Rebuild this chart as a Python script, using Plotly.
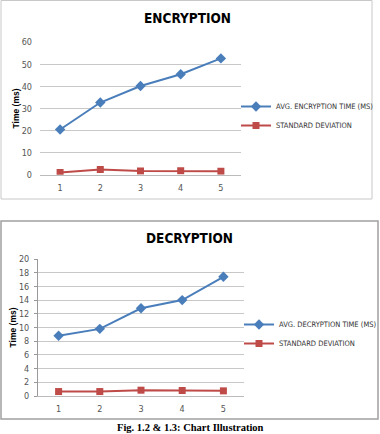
import plotly.graph_objects as go

categories = ["1", "2", "3", "4", "5"]
enc_avg = [20.5, 32.7, 40.2, 45.5, 52.7]
enc_std = [1.0, 2.3, 1.7, 1.8, 1.6]
dec_avg = [8.8, 9.8, 12.8, 14.0, 17.4]
dec_std = [0.65, 0.65, 0.85, 0.8, 0.75]

BLUE = "#4a7ebb"
RED = "#be4b48"
W, H = 380, 434
NARROW = "DejaVu Sans Condensed, Liberation Sans Narrow, Liberation Sans, sans-serif"

def px(x): return x / W
def py(y): return 1 - y / H

fig = go.Figure()
x_idx = [1, 2, 3, 4, 5]

fig.add_trace(go.Scatter(x=x_idx, y=enc_avg, mode="lines+markers", name="AVG. ENCRYPTION TIME (MS)",
                         line=dict(color=BLUE, width=2), marker=dict(symbol="diamond", size=8, color=BLUE),
                         xaxis="x", yaxis="y", legend="legend"))
fig.add_trace(go.Scatter(x=x_idx, y=enc_std, mode="lines+markers", name="STANDARD DEVIATION",
                         line=dict(color=RED, width=2), marker=dict(symbol="square", size=7, color=RED),
                         xaxis="x", yaxis="y", legend="legend"))
fig.add_trace(go.Scatter(x=x_idx, y=dec_avg, mode="lines+markers", name="AVG. DECRYPTION TIME (MS)",
                         line=dict(color=BLUE, width=2), marker=dict(symbol="diamond", size=8, color=BLUE),
                         xaxis="x2", yaxis="y2", legend="legend2"))
fig.add_trace(go.Scatter(x=x_idx, y=dec_std, mode="lines+markers", name="STANDARD DEVIATION",
                         line=dict(color=RED, width=2), marker=dict(symbol="square", size=7, color=RED),
                         xaxis="x2", yaxis="y2", legend="legend2"))

tickfont = dict(family=NARROW, size=9, color="#555555")
xcommon = dict(range=[0.5, 5.5], tickvals=x_idx, ticktext=categories, showgrid=False, zeroline=False,
               showline=True, linecolor="#bbbbbb", ticks="", tickfont=tickfont, fixedrange=True,
               automargin=False, ticklabelstandoff=4)
ytitle = dict(text="<b>Time (ms)</b>", font=dict(family="Liberation Sans, Arial, sans-serif", size=8.5, color="#000000"),
              standoff=0)
legfont = dict(family=NARROW, size=7.5, color="#333333")

fig.update_layout(
    width=W, height=H, margin=dict(l=0, r=0, t=0, b=0, autoexpand=False),
    paper_bgcolor="white", plot_bgcolor="white",
    xaxis=dict(domain=[px(40), px(241)], anchor="y", **xcommon),
    yaxis=dict(domain=[py(174.7), py(42.3)], anchor="x", range=[0, 60], dtick=10,
               showgrid=True, gridcolor="#c8c8c8", gridwidth=1, zeroline=False, showline=False,
               tickfont=tickfont, title=ytitle, ticks="", fixedrange=True, automargin=False,
               ticklabelstandoff=7),
    xaxis2=dict(domain=[px(38), px(244)], anchor="y2", **xcommon),
    yaxis2=dict(domain=[py(396), py(259)], anchor="x2", range=[0, 20], dtick=2,
                showgrid=True, gridcolor="#c8c8c8", gridwidth=1, zeroline=False, showline=True,
                linecolor="#999999", ticks="outside", ticklen=3, tickcolor="#999999",
                tickfont=tickfont, title=ytitle, fixedrange=True, automargin=False,
                ticklabelstandoff=3),
    legend=dict(x=px(236), y=py(116), xanchor="left", yanchor="middle",
                font=legfont, bgcolor="rgba(0,0,0,0)", itemwidth=30, tracegroupgap=0),
    legend2=dict(x=px(239), y=py(334), xanchor="left", yanchor="middle",
                 font=legfont, bgcolor="rgba(0,0,0,0)", itemwidth=30, tracegroupgap=0),
    shapes=[
        dict(type="rect", xref="paper", yref="paper", x0=px(1), x1=px(372), y0=py(199), y1=py(0.5),
             line=dict(color="#c8c8c8", width=1)),
        dict(type="rect", xref="paper", yref="paper", x0=px(1), x1=px(378), y0=py(419), y1=py(221),
             line=dict(color="#a0a0a0", width=1.5)),
    ],
    annotations=[
        dict(text="<b>ENCRYPTION</b>", x=px(187), y=py(18), xref="paper", yref="paper",
             showarrow=False, xanchor="center", yanchor="middle",
             font=dict(family=NARROW, size=13.5, color="#000000")),
        dict(text="<b>DECRYPTION</b>", x=px(189), y=py(238), xref="paper", yref="paper",
             showarrow=False, xanchor="center", yanchor="middle",
             font=dict(family=NARROW, size=13.5, color="#000000")),
        dict(text="<b>Fig. 1.2 &amp; 1.3: Chart Illustration</b>", x=px(190), y=py(427), xref="paper", yref="paper",
             showarrow=False, xanchor="center", yanchor="middle",
             font=dict(family="Liberation Serif, DejaVu Serif, serif", size=10.5, color="#000000")),
    ],
    showlegend=True,
)

fig.write_html("out.html")
